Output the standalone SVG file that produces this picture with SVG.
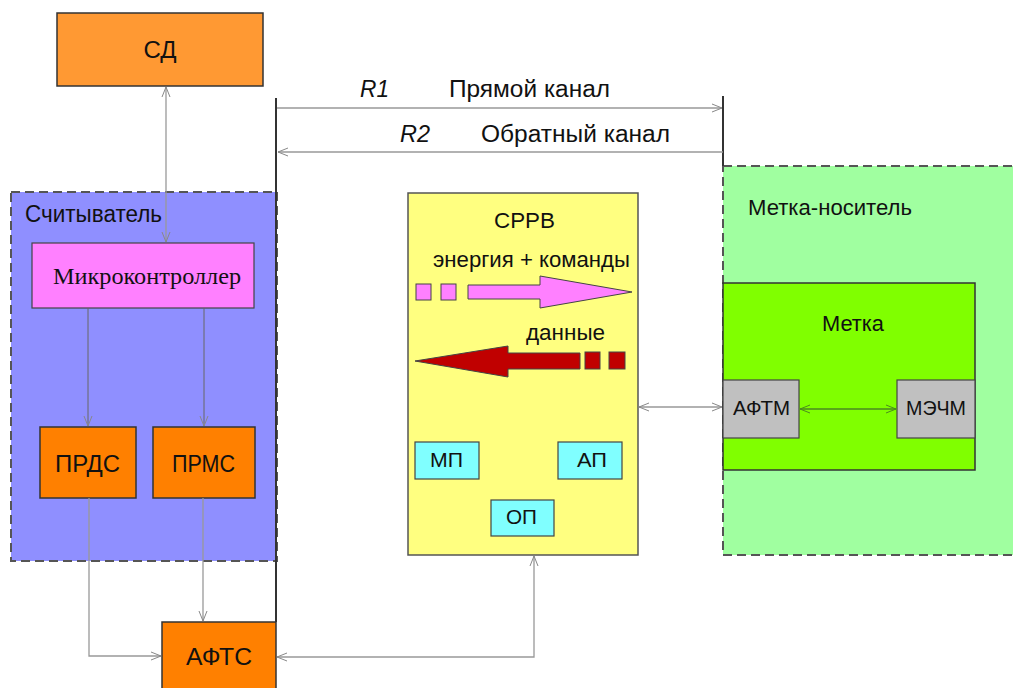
<svg xmlns="http://www.w3.org/2000/svg" width="1013" height="688" viewBox="0 0 1013 688">
<defs>
<marker id="ah" viewBox="0 0 10 10" refX="10" refY="5" markerWidth="10" markerHeight="10" markerUnits="userSpaceOnUse" orient="auto-start-reverse">
<path d="M0,1 L10,5 L0,9" fill="none" stroke="#888" stroke-width="1"/>
</marker>
<marker id="ahg" viewBox="0 0 10 10" refX="10" refY="5" markerWidth="10" markerHeight="10" markerUnits="userSpaceOnUse" orient="auto-start-reverse">
<path d="M0,1 L10,5 L0,9" fill="none" stroke="#4a8a20" stroke-width="1"/>
</marker>
</defs>
<style>
text{font-family:"Liberation Sans",Arial,sans-serif;fill:#111;}
.serif{font-family:"Liberation Serif","Times New Roman",serif;}
.box{stroke:#333;stroke-width:1.5;}
.dash{stroke:#555;stroke-width:2;stroke-dasharray:9,5;}
.c{fill:none;stroke:#999;stroke-width:1.3;}
.bar{fill:none;stroke:#333;stroke-width:2;}
</style>
<rect width="1013" height="688" fill="#fff"/>

<g id="carrier">
<rect x="723" y="166" width="300" height="389" fill="#A0FFA0" class="dash"/>
<text x="748" y="215" font-size="22" textLength="164" lengthAdjust="spacingAndGlyphs">Метка-носитель</text>
</g>
<g id="reader">
<rect x="11" y="192" width="266" height="369" fill="#8F8FFF" class="dash"/>
<text x="25" y="222" font-size="23" textLength="137" lengthAdjust="spacingAndGlyphs">Считыватель</text>
</g>

<g id="sd">
<rect x="57" y="13" width="206" height="73" fill="#FF9933" class="box"/>
<text x="160" y="58" font-size="24" text-anchor="middle">СД</text>
</g>
<g id="mcu">
<rect x="32" y="243" width="222" height="65" fill="#FF80FF" stroke="#444" stroke-width="1.2"/>
<text x="53" y="284" font-size="24" class="serif" textLength="188" lengthAdjust="spacingAndGlyphs">Микроконтроллер</text>
</g>
<g id="prds">
<rect x="40" y="427" width="96" height="71" fill="#FF8000" class="box"/>
<text x="55" y="472" font-size="24" textLength="65" lengthAdjust="spacingAndGlyphs">ПРДС</text>
</g>
<g id="prms">
<rect x="153" y="427" width="102" height="71" fill="#FF8000" class="box"/>
<text x="172" y="472" font-size="24" textLength="63" lengthAdjust="spacingAndGlyphs">ПРМС</text>
</g>
<g id="afts">
<rect x="162" y="622" width="114" height="80" fill="#FF8000" class="box"/>
<text x="186" y="665" font-size="24" textLength="66" lengthAdjust="spacingAndGlyphs">АФТС</text>
</g>

<g id="srrv">
<rect x="408" y="193" width="230" height="362" fill="#FFFF80" stroke="#555" stroke-width="1.5"/>
<text x="494" y="228" font-size="22" textLength="61" lengthAdjust="spacingAndGlyphs">СРРВ</text>
<text x="433" y="267" font-size="22" textLength="197" lengthAdjust="spacingAndGlyphs">энергия + команды</text>
<rect x="416" y="284" width="15" height="16" fill="#FF80FF" stroke="#444" stroke-width="1"/>
<rect x="441" y="284" width="15" height="16" fill="#FF80FF" stroke="#444" stroke-width="1"/>
<path d="M468,285 L540,285 L540,276 L632,292 L540,308 L540,299 L468,299 Z" fill="#FF80FF" stroke="#444" stroke-width="1"/>
<text x="526" y="340" font-size="22" textLength="79" lengthAdjust="spacingAndGlyphs">данные</text>
<path d="M415,361 L508,346 L508,353 L580,353 L580,369 L508,369 L508,377 Z" fill="#C00000" stroke="#444" stroke-width="1"/>
<rect x="585" y="352" width="15" height="17" fill="#C00000" stroke="#444" stroke-width="1"/>
<rect x="609" y="352" width="16" height="17" fill="#C00000" stroke="#444" stroke-width="1"/>
</g>
<g id="mp">
<rect x="415" y="442" width="64" height="37" fill="#80FFFF" stroke="#444" stroke-width="1.2"/>
<text x="430" y="467" font-size="21" textLength="33" lengthAdjust="spacingAndGlyphs">МП</text>
</g>
<g id="ap">
<rect x="558" y="442" width="64" height="37" fill="#80FFFF" stroke="#444" stroke-width="1.2"/>
<text x="577" y="467" font-size="21" textLength="30" lengthAdjust="spacingAndGlyphs">АП</text>
</g>
<g id="op">
<rect x="491" y="500" width="63" height="36" fill="#80FFFF" stroke="#444" stroke-width="1.2"/>
<text x="506" y="524" font-size="21" textLength="31" lengthAdjust="spacingAndGlyphs">ОП</text>
</g>

<g id="metka">
<rect x="723" y="283" width="252" height="187" fill="#80FF00" stroke="#333" stroke-width="1.5"/>
<text x="822" y="331" font-size="22" textLength="62" lengthAdjust="spacingAndGlyphs">Метка</text>
</g>
<g id="aftm">
<rect x="723" y="380" width="76" height="58" fill="#C0C0C0" stroke="#444" stroke-width="1.2"/>
<text x="733" y="415" font-size="21" textLength="57" lengthAdjust="spacingAndGlyphs">АФТМ</text>
</g>
<g id="mechm">
<rect x="897" y="380" width="78" height="58" fill="#C0C0C0" stroke="#444" stroke-width="1.2"/>
<text x="906" y="415" font-size="20" textLength="60" lengthAdjust="spacingAndGlyphs">МЭЧМ</text>
</g>

<g id="connectors">
<line x1="276" y1="98" x2="276" y2="622" class="bar"/>
<line x1="723" y1="96" x2="723" y2="166" class="bar"/>
<line x1="277" y1="108" x2="722" y2="108" class="c" marker-end="url(#ah)"/>
<line x1="723" y1="152" x2="278" y2="152" class="c" marker-end="url(#ah)"/>
<line x1="166" y1="87" x2="166" y2="242" class="c" marker-start="url(#ah)" marker-end="url(#ah)"/>
<line x1="88" y1="308" x2="88" y2="426" stroke="#666" stroke-width="1" marker-end="url(#ah)"/>
<line x1="204" y1="308" x2="204" y2="426" stroke="#666" stroke-width="1" marker-end="url(#ah)"/>
<polyline points="89,498 89,656 161,656" class="c" marker-end="url(#ah)"/>
<line x1="203" y1="498" x2="203" y2="621" class="c" marker-end="url(#ah)"/>
<polyline points="277,657 534,657 534,556" class="c" marker-start="url(#ah)" marker-end="url(#ah)"/>
<line x1="639" y1="407" x2="722" y2="407" class="c" marker-start="url(#ah)" marker-end="url(#ah)"/>
<line x1="800" y1="409" x2="896" y2="409" stroke="#4a8a20" stroke-width="1.3" marker-start="url(#ahg)" marker-end="url(#ahg)"/>
</g>

<g id="labels">
<text x="360" y="97" font-size="23" font-style="italic" textLength="29" lengthAdjust="spacingAndGlyphs">R1</text>
<text x="449" y="97" font-size="23" textLength="161" lengthAdjust="spacingAndGlyphs">Прямой канал</text>
<text x="400" y="142" font-size="23" font-style="italic" textLength="30" lengthAdjust="spacingAndGlyphs">R2</text>
<text x="481" y="142" font-size="23" textLength="189" lengthAdjust="spacingAndGlyphs">Обратный канал</text>
</g>
</svg>
